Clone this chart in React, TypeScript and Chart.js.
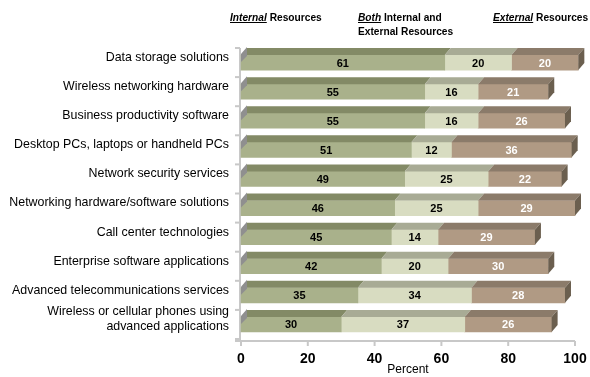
import React, { useEffect, useRef } from "react";
import { Chart, registerables } from "chart.js";

Chart.register(...registerables);

const categories: (string | string[])[] = [
  "Data storage solutions",
  "Wireless networking hardware",
  "Business productivity software",
  "Desktop PCs, laptops or handheld PCs",
  "Network security services",
  "Networking hardware/software solutions",
  "Call center technologies",
  "Enterprise software applications",
  "Advanced telecommunications services",
  ["Wireless or cellular phones using", "advanced applications"],
];
const internalValues = [61, 55, 55, 51, 49, 46, 45, 42, 35, 30];
const bothValues = [20, 16, 16, 12, 25, 25, 14, 20, 34, 37];
const externalValues = [20, 21, 26, 36, 22, 29, 29, 30, 28, 26];
const xTickValues = [0, 20, 40, 60, 80, 100];

const FONT = "'Liberation Sans', Arial, sans-serif";
const DX = 6;
const DY = 7;

const frontColors = ["#a9b18b", "#d8dcc1", "#b09a84"];
const topColors = ["#838a66", "#a8ab95", "#8b7b6a"];
const sideColor = "#6b5f4f";
const labelColors = ["#000000", "#000000", "#ffffff"];

const threeD = {
  id: "threeD",
  beforeDatasetsDraw(chart: any) {
    const ctx = chart.ctx;
    const area = chart.chartArea;
    const x = chart.scales.x;
    const y = chart.scales.y;
    ctx.save();
    ctx.strokeStyle = "#c8c8c8";
    ctx.lineWidth = 2;
    ctx.beginPath();
    ctx.moveTo(area.left - 1, area.top);
    ctx.lineTo(area.left - 1, area.bottom + 2);
    ctx.stroke();
    const n = categories.length;
    const step = (y.getPixelForValue(n - 1) - y.getPixelForValue(0)) / (n - 1);
    for (let i = 0; i <= n; i++) {
      const py = y.getPixelForValue(0) - step / 2 + i * step;
      ctx.beginPath();
      ctx.moveTo(area.left - 6, py);
      ctx.lineTo(area.left - 1, py);
      ctx.stroke();
    }
    ctx.beginPath();
    ctx.moveTo(area.left - 6, area.bottom + 2);
    ctx.lineTo(area.right, area.bottom + 2);
    ctx.stroke();
    for (const v of xTickValues) {
      const px = x.getPixelForValue(v);
      ctx.beginPath();
      ctx.moveTo(px, area.bottom + 2);
      ctx.lineTo(px, area.bottom + 7);
      ctx.stroke();
    }
    ctx.restore();
  },
  afterDatasetsDraw(chart: any) {
    const ctx = chart.ctx;
    const area = chart.chartArea;
    ctx.save();
    const nData = chart.data.datasets.length;
    for (let d = 0; d < nData; d++) {
      const meta = chart.getDatasetMeta(d);
      meta.data.forEach((bar: any) => {
        const { x, y, base, height } = bar.getProps(["x", "y", "base", "height"], true);
        const x1 = Math.min(base, x);
        const x2 = Math.max(base, x);
        const top = y - height / 2;
        const bottom = y + height / 2;
        ctx.fillStyle = topColors[d];
        ctx.beginPath();
        ctx.moveTo(x1, top);
        ctx.lineTo(x2, top);
        ctx.lineTo(x2 + DX, top - DY);
        ctx.lineTo(x1 + DX, top - DY);
        ctx.closePath();
        ctx.fill();
        if (d === nData - 1) {
          ctx.fillStyle = sideColor;
          ctx.beginPath();
          ctx.moveTo(x2, top);
          ctx.lineTo(x2 + DX, top - DY);
          ctx.lineTo(x2 + DX, bottom - DY);
          ctx.lineTo(x2, bottom);
          ctx.closePath();
          ctx.fill();
        }
        if (d === 0) {
          ctx.fillStyle = "#8f8f8f";
          ctx.beginPath();
          ctx.moveTo(area.left, top - 1);
          ctx.lineTo(area.left + DX, top - DY - 1);
          ctx.lineTo(area.left + DX, top + 1);
          ctx.lineTo(area.left, top + 7);
          ctx.closePath();
          ctx.fill();
        }
      });
    }
    ctx.font = `bold 11px ${FONT}`;
    ctx.textAlign = "center";
    ctx.textBaseline = "middle";
    for (let d = 0; d < nData; d++) {
      const meta = chart.getDatasetMeta(d);
      const values = chart.data.datasets[d].data;
      meta.data.forEach((bar: any, i: number) => {
        const { x, y, base } = bar.getProps(["x", "y", "base"], true);
        ctx.fillStyle = labelColors[d];
        ctx.fillText(String(values[i]), (x + base) / 2, y + 1);
      });
    }
    ctx.restore();
  },
};

export default function App() {
  const ref = useRef<HTMLCanvasElement>(null);
  useEffect(() => {
    if (!ref.current) return;
    const mk = (label: string, data: number[], idx: number) => ({
      label,
      data,
      backgroundColor: frontColors[idx],
      borderWidth: 0,
      barThickness: 15,
      clip: false,
    });
    const chart = new Chart(ref.current, {
      type: "bar",
      data: {
        labels: categories,
        datasets: [
          mk("Internal Resources", internalValues, 0),
          mk("Both Internal and External Resources", bothValues, 1),
          mk("External Resources", externalValues, 2),
        ],
      },
      options: {
        indexAxis: "y",
        responsive: false,
        animation: false,
        layout: { padding: { top: 48, right: 15, left: 0, bottom: 0 } },
        plugins: { legend: { display: false }, tooltip: { enabled: false } },
        scales: {
          x: {
            stacked: true,
            min: 0,
            max: 100,
            afterBuildTicks: (scale: any) => {
              scale.ticks = xTickValues.map((v) => ({ value: v }));
            },
            afterFit: (scale: any) => {
              scale.height = 38;
              scale.paddingLeft = 0;
              scale.paddingRight = 0;
            },
            grid: { display: false, drawTicks: false },
            border: { display: false },
            ticks: {
              padding: 12,
              color: "#000",
              font: { family: FONT, size: 14, weight: "bold" },
              maxRotation: 0,
            },
            title: {
              display: true,
              text: "Percent",
              color: "#000",
              font: { family: FONT, size: 12 },
              padding: { top: 0, bottom: 0 },
            },
          },
          y: {
            stacked: true,
            afterFit: (scale: any) => {
              scale.width = 241;
            },
            grid: { display: false, drawTicks: false },
            border: { display: false },
            ticks: {
              padding: 12,
              labelOffset: -5,
              color: "#000",
              font: { family: FONT, size: 12.4 },
              autoSkip: false,
            },
          },
        },
      },
      plugins: [threeD],
    } as any);
    return () => chart.destroy();
  }, []);

  const head: React.CSSProperties = {
    position: "absolute",
    font: `bold 10.2px ${FONT}`,
    lineHeight: "14px",
    color: "#000",
    whiteSpace: "nowrap",
  };
  const em: React.CSSProperties = { fontStyle: "italic", textDecoration: "underline" };

  return (
    <div style={{ position: "fixed", left: 0, top: 0, width: 590, height: 377, background: "#fff" }}>
      <canvas ref={ref} width={590} height={377} style={{ display: "block" }} />
      <div style={{ ...head, left: 230, top: 11 }}>
        <span style={em}>Internal</span> Resources
      </div>
      <div style={{ ...head, left: 358, top: 11 }}>
        <span style={em}>Both</span> Internal and
        <br />
        External Resources
      </div>
      <div style={{ ...head, left: 493, top: 11 }}>
        <span style={em}>External</span> Resources
      </div>
    </div>
  );
}
